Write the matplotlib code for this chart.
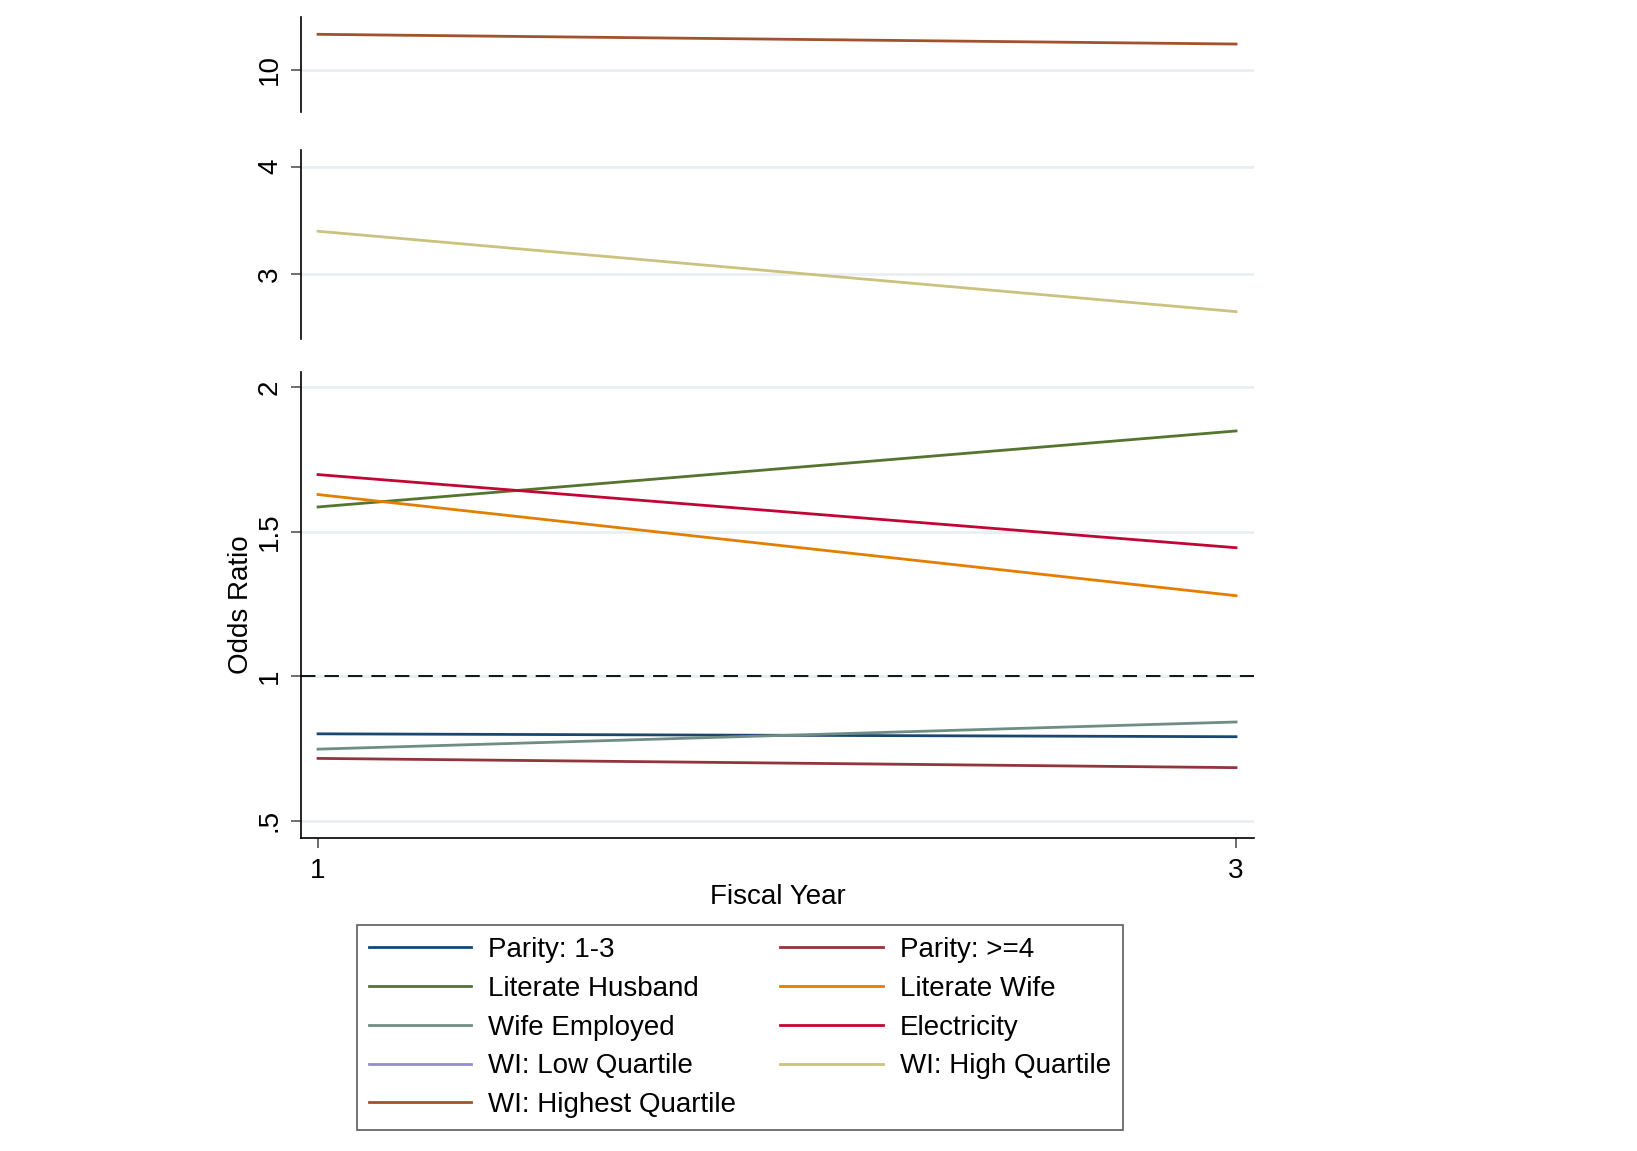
import matplotlib.pyplot as plt
from matplotlib.lines import Line2D

plt.rcParams['font.family'] = ['Liberation Sans', 'DejaVu Sans']

# fiscal years shown on the x axis
years = [1, 3]

# odds ratios at start and end of the period
parity_13 = [0.80, 0.79]
parity_4 = [0.715, 0.683]
lit_husband = [1.585, 1.848]
lit_wife = [1.628, 1.278]
wife_employed = [0.747, 0.841]
electricity = [1.697, 1.444]
wi_low = []            # in legend only, not visible in the plot
wi_high = [3.40, 2.653]
wi_highest = [10.33, 10.24]

names = ["Parity: 1-3", "Parity: >=4", "Literate Husband", "Literate Wife",
         "Wife Employed", "Electricity", "WI: Low Quartile", "WI: High Quartile",
         "WI: Highest Quartile"]
colors = ["#1a476f", "#90353b", "#55752f", "#e37e00", "#6e8e84",
          "#c10534", "#938dd2", "#cac27e", "#a0522d"]

fig = plt.figure(figsize=(16.37, 11.51), dpi=100)

left, width = 0.1839, 0.766 - 0.1839
ax_top = fig.add_axes([left, 0.9027, width, 0.9852 - 0.9027])
ax_mid = fig.add_axes([left, 0.7055, width, 0.8697 - 0.7055])
ax_bot = fig.add_axes([left, 0.2719, width, 0.6768 - 0.2719])

grid_col = "#e8eff2"
for ax in (ax_top, ax_mid, ax_bot):
    ax.set_xlim(0.963, 3.039)
    for s in ("top", "right"):
        ax.spines[s].set_visible(False)
    ax.spines["left"].set_linewidth(1.2)
    ax.tick_params(axis="y", labelrotation=90, labelsize=20, length=7,
                   width=1.2, color="#555555", pad=6)
    ax.yaxis.grid(True, color=grid_col, linewidth=2)
    ax.set_axisbelow(True)

for ax in (ax_top, ax_mid):
    ax.spines["bottom"].set_visible(False)
    ax.set_xticks([])

# top panel
ax_top.set_ylim(9.611, 10.49)
ax_top.set_yticks([10])
ax_top.set_yticklabels(["10"], rotation=90, va="center")
ax_top.plot(years, wi_highest, color=colors[8], lw=2)

# middle panel
ax_mid.set_ylim(2.399, 4.155)
ax_mid.set_yticks([3, 4])
ax_mid.set_yticklabels(["3", "4"], rotation=90, va="center")
ax_mid.plot(years, wi_high, color=colors[7], lw=2)

# bottom panel
ax_bot.set_ylim(0.4394, 2.052)
ax_bot.set_yticks([0.5, 1, 1.5, 2])
ax_bot.set_yticklabels([".5", "1", "1.5", "2"], rotation=90, va="center")
ax_bot.axhline(1, color="black", lw=1.3, dashes=(8, 5), clip_on=False)
series = [parity_13, parity_4, lit_husband, lit_wife, wife_employed,
          electricity]
for vals, c in zip(series, colors[:6]):
    ax_bot.plot(years, vals, color=c, lw=2)
ax_bot.spines["bottom"].set_linewidth(1.2)
ax_bot.set_xticks(years)
ax_bot.set_xticklabels(["1", "3"])
ax_bot.tick_params(axis="x", labelsize=20, length=7, width=1.2,
                   color="#555555", pad=7.5)
ax_bot.set_xlabel("Fiscal Year", fontsize=20, labelpad=0)
ax_bot.set_ylabel("Odds Ratio", fontsize=20, labelpad=2)

# legend: 2 columns, filled column-wise
order = [0, 2, 4, 6, 8, 1, 3, 5, 7]
handles = [Line2D([], [], color=colors[i], lw=2) for i in order]
labels = [names[i] for i in order]
leg = fig.legend(handles, labels, loc="upper left",
                 bbox_to_anchor=(0.218, 0.196), ncol=2, fontsize=20,
                 frameon=True, fancybox=False, edgecolor="#333333",
                 handlelength=3.7, handletextpad=0.6, columnspacing=1.6,
                 labelspacing=0.46, borderpad=0.42, borderaxespad=0)
leg.get_frame().set_linewidth(1.2)

fig.savefig("out.png", dpi=100)
